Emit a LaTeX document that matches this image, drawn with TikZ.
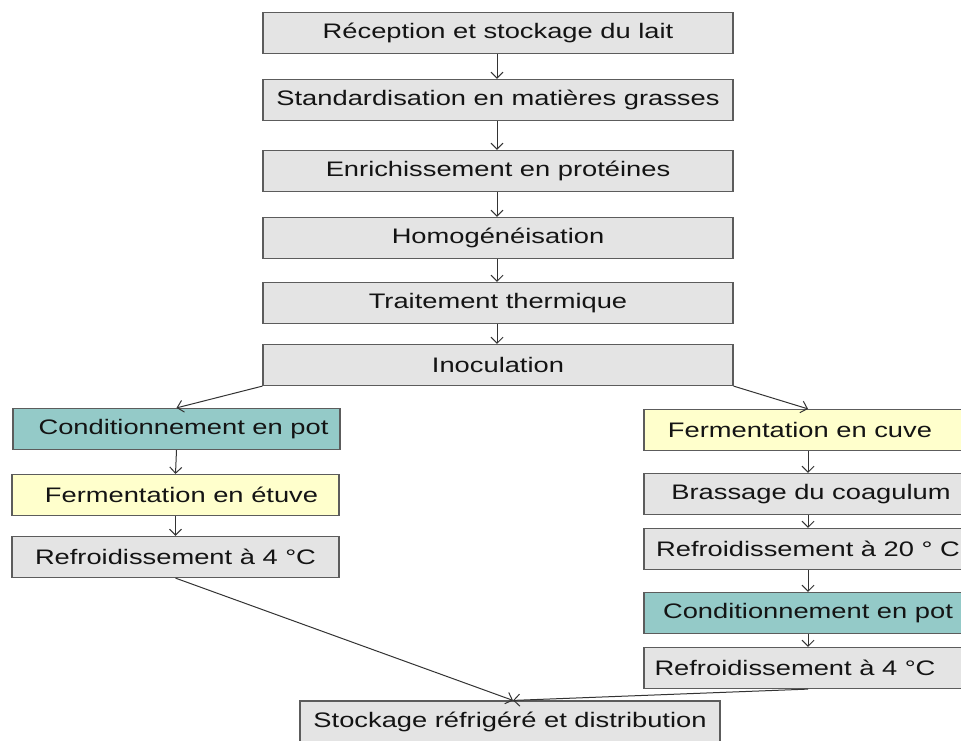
\documentclass[tikz,border=0pt]{standalone}
\usepackage{fontspec}
\setmainfont{Liberation Sans}
\usepackage{graphicx}
\usetikzlibrary{arrows.meta}
\definecolor{boxgray}{HTML}{E4E4E4}
\definecolor{boxteal}{HTML}{94CAC8}
\definecolor{boxyellow}{HTML}{FFFFCC}
\definecolor{edgegray}{HTML}{5C5C5C}
\definecolor{txtcol}{HTML}{141414}
\newcommand{\sx}[1]{\scalebox{1.3}[1]{#1}}
\begin{document}
\begin{tikzpicture}[x=1pt,y=-1pt,
  stepbox/.style={draw=edgegray, line width=1.2pt, fill=boxgray, inner sep=0pt,
    text=txtcol, font=\fontsize{21}{24}\selectfont, minimum height=41pt},
  topbox/.style={stepbox, minimum width=470pt},
  sidebox/.style={stepbox, minimum width=327pt},
  rightbox/.style={stepbox, minimum width=328pt},
  teal/.style={fill=boxteal},
  yel/.style={fill=boxyellow},
  flow/.style={draw=black!80, line width=1pt, -{Straight Barb[length=6pt,width=12pt]}}
]
\useasboundingbox (0,0) rectangle (961,740);
\clip (0,0) rectangle (961,740);
% top column
\node[topbox] (b1) at (498,33) {\sx{Réception et stockage du lait}};
\node[topbox] (b2) at (498,100) {\sx{Standardisation en matières grasses}};
\node[topbox] (b3) at (498,171) {\sx{Enrichissement en protéines}};
\node[topbox] (b4) at (498,238) {\sx{Homogénéisation}};
\node[topbox] (b5) at (498,303) {\sx{Traitement thermique}};
\node[topbox] (b6) at (498,365) {\sx{Inoculation}};
% left column
\node[sidebox,teal] (l1) at (176.5,429) {\kern14pt\sx{Conditionnement en pot}};
\node[sidebox,yel] (l2) at (175.5,495) {\kern12pt\sx{Fermentation en étuve}};
\node[sidebox] (l3) at (175.5,557) {\sx{Refroidissement à 4 °C}};
% right column
\node[rightbox,yel] (r1) at (808,430) {\sx{Fermentation en cuve}\kern16pt};
\node[rightbox] (r2) at (808,494) {\kern6pt\sx{Brassage du coagulum}};
\node[rightbox] (r3) at (808,549) {\sx{Refroidissement à 20 ° C}};
\node[rightbox,teal] (r4) at (808,613) {\sx{Conditionnement en pot}};
\node[rightbox] (r5) at (808,668) {\sx{Refroidissement à 4 °C}\kern26pt};
% bottom
\node[stepbox, minimum width=420pt] (s) at (510,721.5) {\sx{Stockage réfrigéré et distribution}};
% connectors
\draw[flow] ([xshift=-1pt]b1.south) -- ([xshift=-1pt]b2.north);
\draw[flow] ([xshift=-1pt]b2.south) -- ([xshift=-1pt]b3.north);
\draw[flow] ([xshift=-1pt]b3.south) -- ([xshift=-1pt]b4.north);
\draw[flow] ([xshift=-1pt]b4.south) -- ([xshift=-1pt]b5.north);
\draw[flow] ([xshift=-1pt]b5.south) -- ([xshift=-1pt]b6.north);
\draw[flow] (b6.south west) -- (l1.north);
\draw[flow] (b6.south east) -- (r1.north);
\draw[flow] (l1.south) -- (l2.north);
\draw[flow] (l2.south) -- (l3.north);
\draw[flow] (r1.south) -- (r2.north);
\draw[flow] (r2.south) -- (r3.north);
\draw[flow] (r3.south) -- (r4.north);
\draw[flow] (r4.south) -- (r5.north);
\draw[flow] (l3.south) -- ([xshift=3pt]s.north);
\draw[flow] (r5.south) -- ([xshift=3pt]s.north);
\end{tikzpicture}
\end{document}
